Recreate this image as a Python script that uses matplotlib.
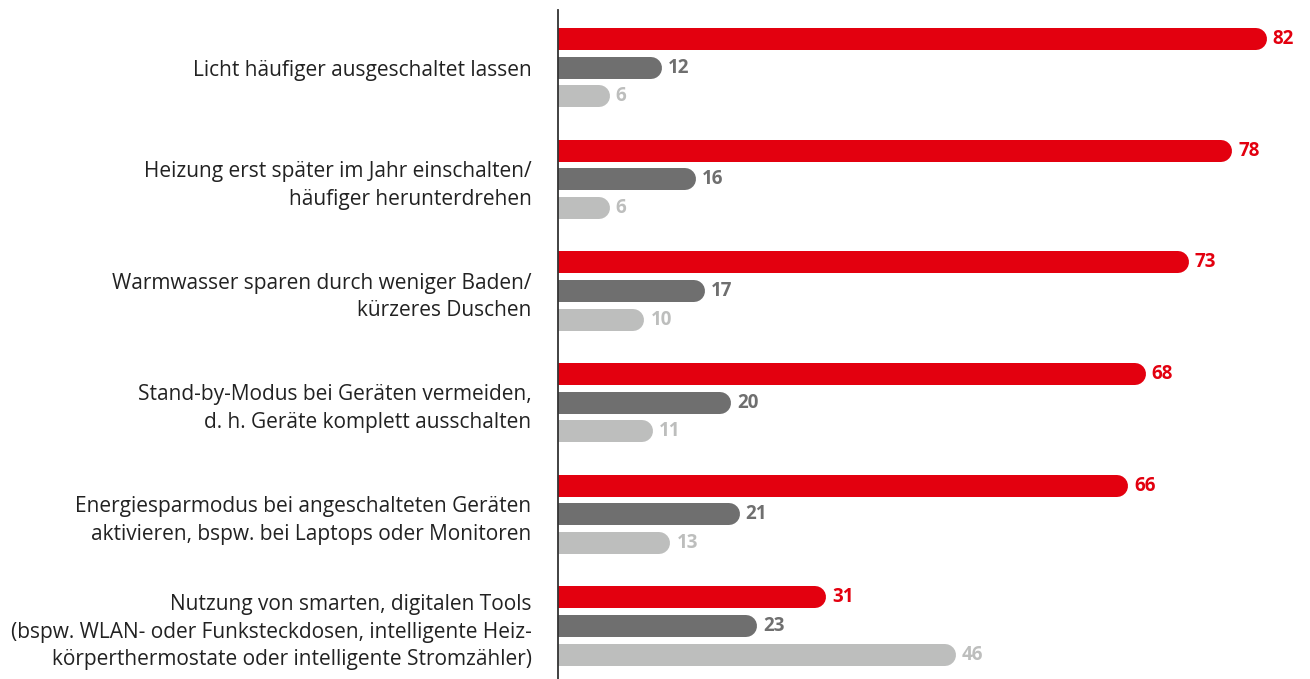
import matplotlib
matplotlib.use("Agg")
import matplotlib.pyplot as plt
from matplotlib.transforms import offset_copy

labels = [
    "Licht häufiger ausgeschaltet lassen",
    "Heizung erst später im Jahr einschalten/\nhäufiger herunterdrehen",
    "Warmwasser sparen durch weniger Baden/\nkürzeres Duschen",
    "Stand-by-Modus bei Geräten vermeiden,\nd. h. Geräte komplett ausschalten",
    "Energiesparmodus bei angeschalteten Geräten\naktivieren, bspw. bei Laptops oder Monitoren",
    "Nutzung von smarten, digitalen Tools\n(bspw. WLAN- oder Funksteckdosen, intelligente Heiz-\nkörperthermostate oder intelligente Stromzähler)",
]
red_vals = [82, 78, 73, 68, 66, 31]
dark_vals = [12, 16, 17, 20, 21, 23]
light_vals = [6, 6, 10, 11, 13, 46]

colors = ["#e3000f", "#6f6f6f", "#bdbebd"]
series = [red_vals, dark_vals, light_vals]

plt.rcParams["font.family"] = ["Open Sans", "DejaVu Sans"]

fig = plt.figure(figsize=(13.1, 6.79), dpi=100)
ax = fig.add_axes([558 / 1310, 0, 752 / 1310, 669 / 679])

group_gap = 3.89
ax.set_xlim(0, 87.0)
ax.set_ylim(5 * group_gap + 2 + 0.84, -1.01)
fig.canvas.draw()

# bar thickness in px -> points, radius in data units
bar_px = 22
lw = bar_px * 72 / fig.dpi
px_per_unit = ax.transData.transform((1, 0))[0] - ax.transData.transform((0, 0))[0]
r = (bar_px / 2) / px_per_unit

for j, (vals, c) in enumerate(zip(series, colors)):
    for i, v in enumerate(vals):
        y = i * group_gap + j
        ax.plot([-5, v - r], [y, y], color=c, lw=lw, solid_capstyle="round", clip_on=True)
        ax.text(v, y, str(v), color=c, fontsize=13.5, fontweight="bold", va="center", ha="left",
                transform=offset_copy(ax.transData, fig=fig, x=6, y=0, units="dots"), clip_on=False)

ax.set_yticks([i * group_gap + 1 for i in range(len(labels))])
ax.set_yticklabels(labels, fontsize=15, color="#222222", linespacing=1.42)
ax.tick_params(axis="y", length=0, pad=19)
ax.set_xticks([])
for s in ["top", "right", "bottom"]:
    ax.spines[s].set_visible(False)
ax.spines["left"].set_color("#333333")
ax.spines["left"].set_linewidth(1.3)
ax.spines["left"].set_bounds(-1.01, 5 * group_gap + 2 + 0.84)
ax.spines["left"].set_zorder(5)

fig.savefig("out.png", dpi=100)
